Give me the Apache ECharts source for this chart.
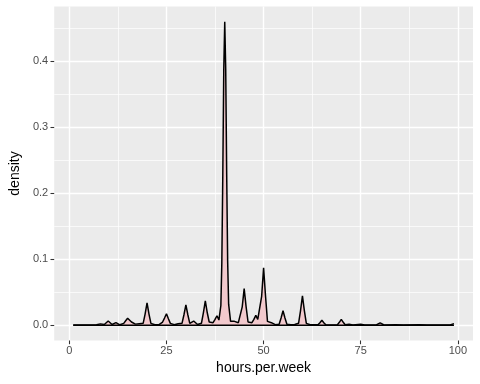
<!DOCTYPE html>
<html>
<head>
<meta charset="utf-8">
<script src="https://cdn.jsdelivr.net/npm/echarts@6/dist/echarts.min.js"></script>
<style>html,body{margin:0;padding:0;background:#fff}#c{width:480px;height:384px}</style>
</head>
<body>
<div id="c"></div>
<script>
// Density curve
var hours = [1,3,5,6,7,7.5,8,8.5,9,9.5,10,10.5,11,11.5,12,12.5,13,13.5,14,14.5,15,15.5,16,16.5,17,17.5,18,18.5,19,19.5,20,20.5,21,21.5,22,23,23.5,24,24.5,25,25.5,26,26.5,27,27.5,28,28.5,29,29.5,30,30.5,31,31.5,32,32.5,33,34,34.5,35,35.5,36,36.5,37,37.5,38,38.5,39,39.25,39.5,39.75,40,40.25,40.5,40.75,41,41.5,42,42.5,43,43.5,44,44.5,45,45.5,46,46.5,47,47.5,48,48.5,49,49.5,50,50.5,51,51.5,52,52.5,53,54,54.5,55,55.5,56,57,58,59,59.5,60,60.5,61,62,64,64.5,65,65.5,66,68,69,69.5,70,70.5,71,72,73,75,76,79,79.5,80,80.5,81,84,86,90,92,98,98.5,99];
var density = [0.0003,0.0003,0.0004,0.0005,0.0008,0.0012,0.0022,0.0012,0.0012,0.0035,0.0065,0.0035,0.0012,0.0022,0.004,0.0022,0.0008,0.0012,0.003,0.007,0.0108,0.008,0.005,0.003,0.0018,0.0018,0.0025,0.0018,0.003,0.017,0.034,0.017,0.003,0.001,0.0008,0.0008,0.002,0.005,0.011,0.0175,0.010,0.003,0.001,0.001,0.0015,0.0025,0.0015,0.003,0.016,0.031,0.016,0.003,0.0035,0.0065,0.0035,0.0012,0.003,0.019,0.037,0.019,0.005,0.003,0.004,0.009,0.0145,0.008,0.03,0.095,0.228,0.388,0.46,0.388,0.229,0.097,0.032,0.006,0.007,0.006,0.005,0.004,0.006,0.028,0.0555,0.028,0.005,0.003,0.004,0.009,0.015,0.009,0.008,0.044,0.087,0.044,0.006,0.003,0.004,0.002,0.001,0.0015,0.011,0.022,0.011,0.0015,0.001,0.0012,0.003,0.022,0.0445,0.022,0.003,0.0008,0.0008,0.004,0.0078,0.004,0.0008,0.0006,0.001,0.0045,0.009,0.0045,0.001,0.0015,0.0006,0.0015,0.0005,0.0006,0.002,0.0037,0.002,0.0005,0.0009,0.0004,0.0007,0.0003,0.0004,0.0012,0.0025];
var xTicks = [0, 25, 50, 75, 100];
var xMinor = [12.5, 37.5, 62.5, 87.5];
var yTicks = [0, 0.1, 0.2, 0.3, 0.4];
var yMinor = [0.05, 0.15, 0.25, 0.35, 0.45];
var xRange = [-3.9, 103.9];
var yRange = [-0.023, 0.483];

var FONT = '"Liberation Sans", Arial, sans-serif';
var curve = hours.map(function (h, i) { return [h, density[i]]; });
var ends = [[hours[0], 0], [hours[hours.length - 1], 0]];

var gridLines = [];
xTicks.forEach(function (v) { gridLines.push({ xAxis: v, lineStyle: { width: 1.4 } }); });
xMinor.forEach(function (v) { gridLines.push({ xAxis: v, lineStyle: { width: 0.7 } }); });
yTicks.forEach(function (v) { gridLines.push({ yAxis: v, lineStyle: { width: 1.4 } }); });
yMinor.forEach(function (v) { gridLines.push({ yAxis: v, lineStyle: { width: 0.7 } }); });

var chart = echarts.init(document.getElementById('c'), null, { renderer: 'canvas' });
chart.setOption({
  animation: false,
  backgroundColor: '#ffffff',
  textStyle: { fontFamily: FONT },
  grid: { left: 51, right: 7, top: 6.5, bottom: 43.5, show: true, backgroundColor: '#EBEBEB', borderWidth: 0 },
  xAxis: {
    type: 'value', min: xRange[0], max: xRange[1],
    name: 'hours.per.week', nameLocation: 'middle', nameGap: 20,
    nameTextStyle: { fontSize: 14, color: '#000000', fontFamily: FONT },
    axisLine: { show: false, onZero: false },
    axisTick: { show: true, customValues: xTicks, length: 3.7, lineStyle: { color: '#333333', width: 1.07 } },
    axisLabel: { customValues: xTicks, margin: 5, fontSize: 11, color: '#4D4D4D', fontFamily: FONT },
    splitLine: { show: false }
  },
  yAxis: {
    type: 'value', min: yRange[0], max: yRange[1],
    name: 'density', nameLocation: 'middle', nameGap: 29, nameRotate: 90,
    nameTextStyle: { fontSize: 14, color: '#000000', fontFamily: FONT },
    axisLine: { show: false, onZero: false },
    axisTick: { show: true, customValues: yTicks, length: 3.7, lineStyle: { color: '#333333', width: 1.07 } },
    axisLabel: { customValues: yTicks, margin: 6, fontSize: 11, color: '#4D4D4D', fontFamily: FONT,
      formatter: function (v) { return v.toFixed(1); } },
    splitLine: { show: false }
  },
  series: [
    {
      type: 'line', data: [], z: 0, silent: true,
      markLine: { silent: true, symbol: 'none', z: 0, label: { show: false },
        lineStyle: { color: '#FFFFFF', type: 'solid' }, data: gridLines }
    },
    {
      type: 'line', data: curve, z: 3, showSymbol: false, smooth: false,
      lineStyle: { color: '#000000', width: 1.5 },
      areaStyle: { color: '#F2C9CD', opacity: 1, origin: 0 }
    },
    {
      type: 'line', data: ends, z: 4, showSymbol: false,
      lineStyle: { color: '#000000', width: 1.5 }
    }
  ]
});
</script>
</body>
</html>
